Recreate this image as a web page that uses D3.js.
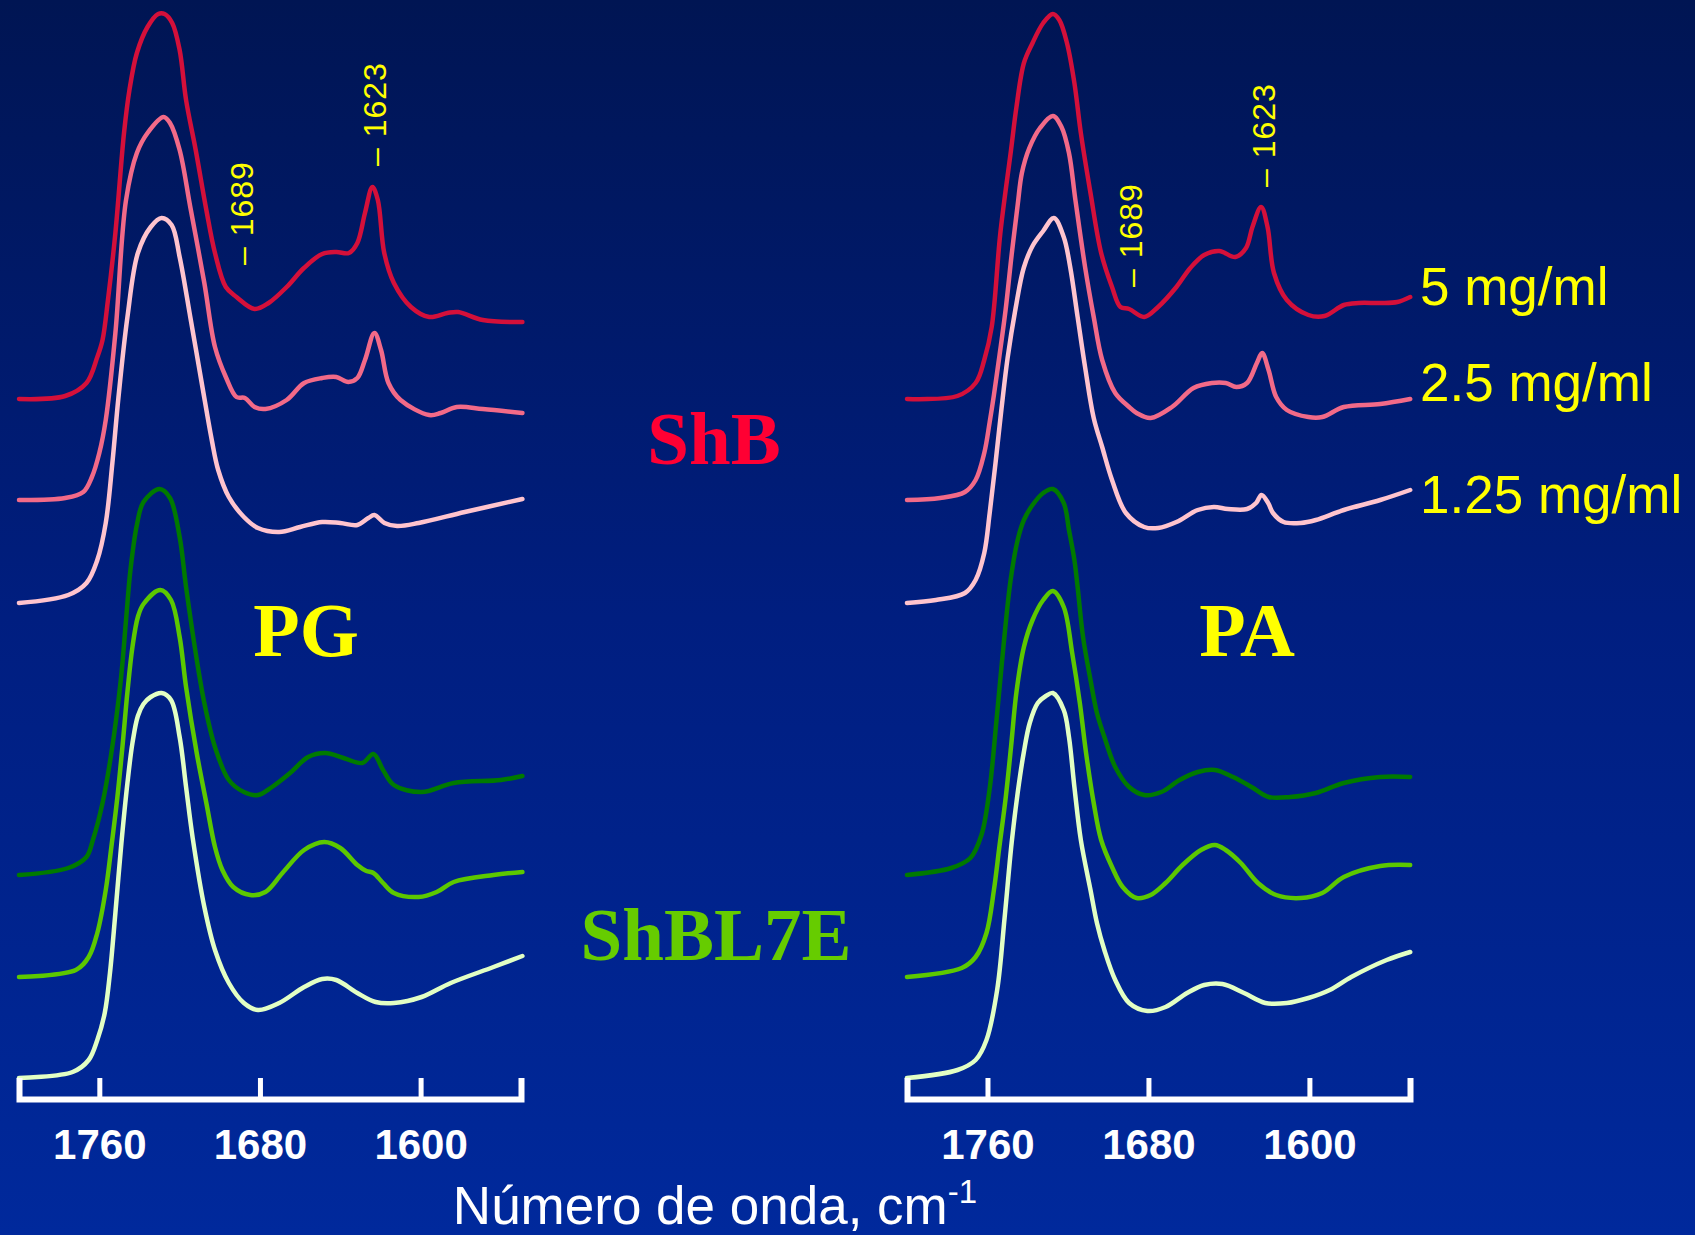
<!DOCTYPE html>
<html><head><meta charset="utf-8">
<script src="https://cdn.jsdelivr.net/npm/d3@7"></script>
<style>html,body{margin:0;padding:0;background:#001a6e;} svg{display:block}</style>
</head><body>
<svg id="chart" width="1695" height="1235"></svg>
<script>
// ---------- DATA ----------
const tickValues = [1760, 1680, 1600];
const wnDomain = [1800, 1550];
const concentrations = ["5 mg/ml", "2.5 mg/ml", "1.25 mg/ml"];
const proteins = ["ShB", "ShBL7E"];
const lipids = ["PG", "PA"];
// vertical stacking offsets (a.u.) for ShB 5, 2.5, 1.25, ShBL7E 5, 2.5, 1.25
const offsets = [7.0, 6.0, 4.97, 2.25, 1.23, 0.22];
const peakLabels = ["1689", "1623"];
// label base level (a.u.) for each peak label, PG panel and PA panel
const pgPeakLevels = [8.35, 9.34];
const paPeakLevels = [8.13, 9.13];

// PG panel spectra: [wavenumber, absorbance a.u.]
const pg_ShB_5 = [[1800,0.01],[1777,0.04],[1766.4,0.17],[1761,0.43],[1758.4,0.60],[1755.7,1.00],[1752,1.67],[1747.7,2.67],[1745,3.10],[1741.3,3.47],[1736,3.73],[1730.7,3.86],[1727.5,3.86],[1723.7,3.77],[1720,3.50],[1716.8,3.00],[1712,2.50],[1706.7,1.90],[1702.4,1.47],[1697,1.13],[1691.7,1.03],[1682.7,0.91],[1675.7,0.97],[1666.7,1.13],[1658.1,1.32],[1649,1.46],[1642,1.48],[1635.7,1.47],[1631.5,1.57],[1627.7,1.87],[1624,2.13],[1621.3,2.00],[1618.1,1.47],[1613.3,1.17],[1604.8,0.93],[1595.7,0.83],[1586.7,0.87],[1581.3,0.88],[1569,0.80],[1549.3,0.78]];
const pg_ShB_25 = [[1800,0],[1777,0.02],[1768,0.08],[1763.7,0.23],[1760,0.47],[1756.8,0.80],[1752,1.67],[1746.7,3.00],[1741.3,3.47],[1736,3.67],[1728,3.83],[1724.8,3.77],[1720,3.50],[1714.7,2.93],[1707.7,2.17],[1702.4,1.53],[1697,1.23],[1691.7,1.03],[1687.5,1.02],[1682.7,0.93],[1677.3,0.91],[1666.7,1.00],[1658,1.17],[1649,1.22],[1642,1.23],[1636,1.18],[1631.5,1.22],[1627.7,1.40],[1623,1.67],[1619.7,1.50],[1616,1.17],[1610,1.00],[1595.7,0.85],[1590,0.87],[1582,0.93],[1569,0.91],[1549.3,0.87]];
const pg_ShB_125 = [[1800,0],[1775.5,0.08],[1766.4,0.20],[1761,0.43],[1756.8,0.80],[1753.5,1.40],[1750.5,2.05],[1746,2.86],[1740.8,3.50],[1734.4,3.76],[1729,3.85],[1724,3.78],[1720,3.46],[1714.7,2.86],[1709,2.20],[1704,1.63],[1700.8,1.33],[1695.5,1.06],[1688,0.86],[1681,0.75],[1670.4,0.71],[1660,0.76],[1649,0.81],[1640,0.80],[1631.5,0.78],[1626,0.85],[1623,0.88],[1618,0.80],[1611.7,0.77],[1601,0.80],[1578,0.91],[1549.3,1.04]];
const pg_L7E_5 = [[1800,0],[1775.5,0.07],[1766.4,0.18],[1763.2,0.35],[1758.4,0.72],[1754,1.22],[1749.3,1.95],[1746.7,2.55],[1744.5,3.05],[1741.3,3.50],[1738,3.73],[1730,3.86],[1724.8,3.77],[1720,3.38],[1716.8,2.88],[1712,2.22],[1707.7,1.72],[1702.4,1.28],[1695.5,0.95],[1688,0.83],[1681,0.80],[1674,0.88],[1665,1.02],[1656,1.18],[1647.5,1.22],[1638.4,1.17],[1629,1.12],[1623.5,1.21],[1618.7,1.05],[1613.3,0.90],[1599.5,0.83],[1583.5,0.92],[1560,0.95],[1549.3,0.99]];
const pg_L7E_25 = [[1800,0],[1771.7,0.07],[1765.3,0.20],[1761,0.44],[1756.8,0.87],[1754,1.30],[1751,1.80],[1748.5,2.30],[1746,2.85],[1743.5,3.30],[1740.8,3.60],[1738,3.73],[1729.6,3.87],[1724.3,3.77],[1720,3.40],[1716.8,2.90],[1711.5,2.24],[1706.7,1.74],[1702.4,1.30],[1698.7,1.07],[1693.3,0.90],[1684.8,0.82],[1677.3,0.85],[1668.8,1.04],[1658,1.27],[1648,1.35],[1640,1.29],[1631.5,1.12],[1627,1.06],[1623.5,1.04],[1618.7,0.94],[1613.3,0.84],[1601,0.80],[1592,0.85],[1583.5,0.95],[1563.7,1.02],[1549.3,1.05]];
const pg_L7E_125 = [[1800,0],[1773.3,0.06],[1765.3,0.18],[1761,0.38],[1757.3,0.65],[1754.7,1.05],[1752,1.65],[1749,2.35],[1746,2.95],[1743.5,3.35],[1740.8,3.62],[1738,3.74],[1734.4,3.81],[1729,3.85],[1724.3,3.78],[1720,3.41],[1716.8,2.91],[1713.5,2.40],[1707.7,1.71],[1702.4,1.28],[1695.5,0.95],[1688,0.75],[1681,0.68],[1670.4,0.75],[1658,0.91],[1649,0.99],[1642,0.98],[1631.5,0.85],[1622.4,0.76],[1613.3,0.75],[1599.5,0.81],[1585,0.95],[1563.7,1.11],[1549.3,1.22]];

// PA panel spectra
const pa_ShB_5 = [[1800,0.01],[1775,0.04],[1765.9,0.17],[1761.6,0.40],[1757.9,0.73],[1753.6,1.67],[1748.3,2.50],[1745.6,2.93],[1741.9,3.37],[1737.6,3.57],[1732.3,3.77],[1727.5,3.86],[1724.3,3.80],[1720.5,3.57],[1716.8,3.17],[1713.6,2.67],[1708.8,2.07],[1703.5,1.47],[1698.1,1.13],[1693.9,0.93],[1689.6,0.91],[1682.1,0.83],[1675.2,0.93],[1666.1,1.13],[1659.2,1.32],[1652.3,1.45],[1644.8,1.49],[1636.8,1.43],[1631.5,1.52],[1628.3,1.73],[1624,1.93],[1620.8,1.73],[1617.6,1.27],[1611.2,1.00],[1600.5,0.85],[1592.5,0.84],[1582.9,0.95],[1575.5,0.97],[1564.8,0.97],[1556.3,0.98],[1549.9,1.03]];
const pa_ShB_25 = [[1800,0],[1783.5,0.02],[1771.2,0.08],[1765.9,0.20],[1761.6,0.47],[1758.9,0.78],[1756.8,1.05],[1754,1.45],[1751,1.90],[1748,2.45],[1745,2.95],[1742.9,3.27],[1739.2,3.52],[1733.9,3.72],[1727.5,3.84],[1723.2,3.73],[1719.5,3.47],[1716.3,3.00],[1711.5,2.33],[1707.2,1.83],[1703,1.40],[1696.5,1.07],[1689.6,0.93],[1685.9,0.87],[1678.9,0.82],[1668.3,0.93],[1657.6,1.12],[1648.5,1.17],[1641.6,1.17],[1636.3,1.13],[1631,1.17],[1626.1,1.37],[1623.5,1.47],[1620.3,1.30],[1616.5,1.03],[1611.2,0.90],[1600.5,0.83],[1593.6,0.83],[1582.9,0.93],[1564.8,0.96],[1549.9,1.01]];
const pa_ShB_125 = [[1800,0],[1785.6,0.03],[1771.2,0.10],[1765.9,0.23],[1761.6,0.50],[1758.9,0.90],[1756,1.40],[1753,1.95],[1750,2.45],[1746,2.95],[1742,3.35],[1737.6,3.57],[1732.3,3.72],[1727,3.85],[1722.1,3.66],[1718.9,3.36],[1715.2,2.86],[1711.5,2.36],[1707.2,1.85],[1703,1.56],[1698.1,1.23],[1691.2,0.90],[1682.1,0.76],[1675.2,0.75],[1666.1,0.81],[1655.5,0.93],[1647.5,0.96],[1640.5,0.94],[1631,0.94],[1626.5,1.00],[1623.8,1.08],[1620.5,1.00],[1618.1,0.90],[1612.8,0.81],[1604.3,0.80],[1596.8,0.83],[1582.9,0.93],[1564.8,1.03],[1549.9,1.13]];
const pa_L7E_5 = [[1800,0],[1778,0.07],[1768.5,0.17],[1763,0.40],[1759,0.85],[1755.5,1.55],[1752,2.30],[1748.5,2.95],[1745,3.35],[1741.9,3.55],[1737.6,3.70],[1732.3,3.82],[1727.5,3.86],[1722.1,3.72],[1719.5,3.45],[1716.8,3.15],[1715.2,2.88],[1712.5,2.38],[1708.8,1.95],[1705.6,1.62],[1701.9,1.38],[1696.5,1.08],[1689.6,0.88],[1682.1,0.80],[1673.6,0.83],[1664.5,0.95],[1655.5,1.03],[1647,1.05],[1637.9,0.98],[1628.8,0.88],[1620.3,0.78],[1609.6,0.78],[1596.8,0.82],[1582.9,0.92],[1564.8,0.98],[1549.9,0.98]];
const pa_L7E_25 = [[1800,0],[1772.8,0.09],[1765.9,0.20],[1760.5,0.44],[1756.8,0.87],[1754.1,1.30],[1750.9,1.80],[1748.3,2.30],[1745.6,2.85],[1741.9,3.30],[1737.6,3.57],[1732.3,3.77],[1727.5,3.86],[1722.1,3.70],[1717.9,3.24],[1714.1,2.74],[1711,2.24],[1707.2,1.74],[1703.5,1.37],[1698.1,1.10],[1692.8,0.90],[1685.9,0.79],[1678.9,0.82],[1671.5,0.94],[1663,1.12],[1653.9,1.27],[1647,1.32],[1641.6,1.27],[1634.1,1.14],[1625.6,0.94],[1616.5,0.82],[1604.3,0.79],[1593.6,0.84],[1582.9,1.00],[1564.8,1.11],[1549.9,1.12]];
const pa_L7E_125 = [[1800,0],[1774.9,0.08],[1765.9,0.18],[1760.5,0.38],[1755.2,0.88],[1751.5,1.60],[1748,2.35],[1745,2.85],[1742,3.25],[1739,3.55],[1735,3.75],[1731,3.82],[1727.5,3.85],[1722.1,3.68],[1719.5,3.41],[1716.8,2.91],[1713.6,2.38],[1708.8,1.88],[1705.6,1.55],[1701.9,1.28],[1696.5,0.98],[1689.6,0.75],[1680.5,0.67],[1671.5,0.71],[1660.8,0.85],[1652.3,0.93],[1643.2,0.94],[1632.5,0.85],[1621.9,0.75],[1611.2,0.75],[1600.5,0.80],[1589.9,0.88],[1579.2,1.01],[1561.6,1.18],[1549.9,1.26]];

// ---------- STYLE ----------
const lineColors = ["#D4103A", "#F26A88", "#FFC4CE", "#007A00", "#5CC800", "#E2FFC4"];
const W = 1695, H = 1235;

const svg = d3.select("#chart");
const defs = svg.append("defs");
const grad = defs.append("linearGradient").attr("id", "bg").attr("x1", 0).attr("y1", 0).attr("x2", 0).attr("y2", 1);
grad.append("stop").attr("offset", "0%").attr("stop-color", "#001553");
grad.append("stop").attr("offset", "50%").attr("stop-color", "#001e80");
grad.append("stop").attr("offset", "100%").attr("stop-color", "#00299c");
svg.append("rect").attr("width", W).attr("height", H).attr("fill", "url(#bg)");

const y = d3.scaleLinear().domain([0, 11]).range([1100, 0]);
const axisY = 1099;

const panels = [
  { lipid: lipids[0], range: [19, 521], series: [pg_ShB_5, pg_ShB_25, pg_ShB_125, pg_L7E_5, pg_L7E_25, pg_L7E_125], levels: pgPeakLevels, labelX: 306 },
  { lipid: lipids[1], range: [907, 1410], series: [pa_ShB_5, pa_ShB_25, pa_ShB_125, pa_L7E_5, pa_L7E_25, pa_L7E_125], levels: paPeakLevels, labelX: 1247 }
];

panels.forEach(p => {
  const x = d3.scaleLinear().domain(wnDomain).range(p.range);
  const g = svg.append("g");
  const line = d3.line()
    .x(d => x(d[0]))
    .y(d => y(d[1] + d.off))
    .curve(d3.curveCatmullRom.alpha(0.5));
  p.series.forEach((s, i) => {
    const pts = s.map(d => { const o = [d[0], d[1]]; o.off = offsets[i]; return o; });
    g.append("path").datum(pts)
      .attr("d", line)
      .attr("fill", "none")
      .attr("stroke", lineColors[i])
      .attr("stroke-width", 4.5)
      .attr("stroke-linejoin", "round")
      .attr("stroke-linecap", "round");
  });

  // axis
  const ax = d3.axisBottom(x).tickValues(tickValues).tickSize(-21).tickSizeOuter(-21).tickPadding(30).tickFormat(d3.format("d"));
  const axg = svg.append("g").attr("transform", `translate(0,${axisY})`).call(ax);
  axg.select(".domain").attr("stroke", "#fff").attr("stroke-width", 6).attr("fill", "none").attr("stroke-linejoin", "miter");
  axg.selectAll(".tick line").attr("stroke", "#fff").attr("stroke-width", 5);
  axg.selectAll(".tick text").attr("fill", "#fff")
    .style("font-family", "'Liberation Sans', Arial, sans-serif")
    .style("font-weight", "bold").style("font-size", "42px");

  // peak labels
  peakLabels.forEach((lab, k) => {
    svg.append("text")
      .attr("transform", `translate(${x(+lab)},${y(p.levels[k])}) rotate(-90)`)
      .attr("dy", "0.36em")
      .attr("fill", "#FFFF00")
      .style("font-family", "'Liberation Sans', Arial, sans-serif")
      .style("font-size", "32px")
      .style("letter-spacing", "1px")
      .text("\u2013 " + lab);
  });

  // lipid label
  svg.append("text").attr("x", p.labelX).attr("y", 656)
    .attr("text-anchor", "middle").attr("fill", "#FFFF00")
    .style("font-family", "'Liberation Serif', 'Times New Roman', serif")
    .style("font-weight", "bold").style("font-size", "76px")
    .text(p.lipid);
});

// protein labels
svg.append("text").attr("x", 714).attr("y", 464).attr("text-anchor", "middle")
  .attr("fill", "#FF0033")
  .style("font-family", "'Liberation Serif', 'Times New Roman', serif")
  .style("font-weight", "bold").style("font-size", "75px").text(proteins[0]);
svg.append("text").attr("x", 716).attr("y", 960).attr("text-anchor", "middle")
  .attr("fill", "#66CC00")
  .style("font-family", "'Liberation Serif', 'Times New Roman', serif")
  .style("font-weight", "bold").style("font-size", "75px").text(proteins[1]);

// concentration legend
const legendY = [305, 401, 513];
concentrations.forEach((c, i) => {
  svg.append("text").attr("x", 1420).attr("y", legendY[i])
    .attr("fill", "#FFFF00")
    .style("font-family", "'Liberation Sans', Arial, sans-serif")
    .style("font-size", "53px").text(c);
});

// axis title
const t = svg.append("text").attr("x", 715).attr("y", 1224).attr("text-anchor", "middle")
  .attr("fill", "#fff")
  .style("font-family", "'Liberation Sans', Arial, sans-serif")
  .style("font-size", "53px");
t.append("tspan").text("Número de onda, cm");
t.append("tspan").attr("dy", -21).style("font-size", "33px").text("-1");
</script>
</body></html>
